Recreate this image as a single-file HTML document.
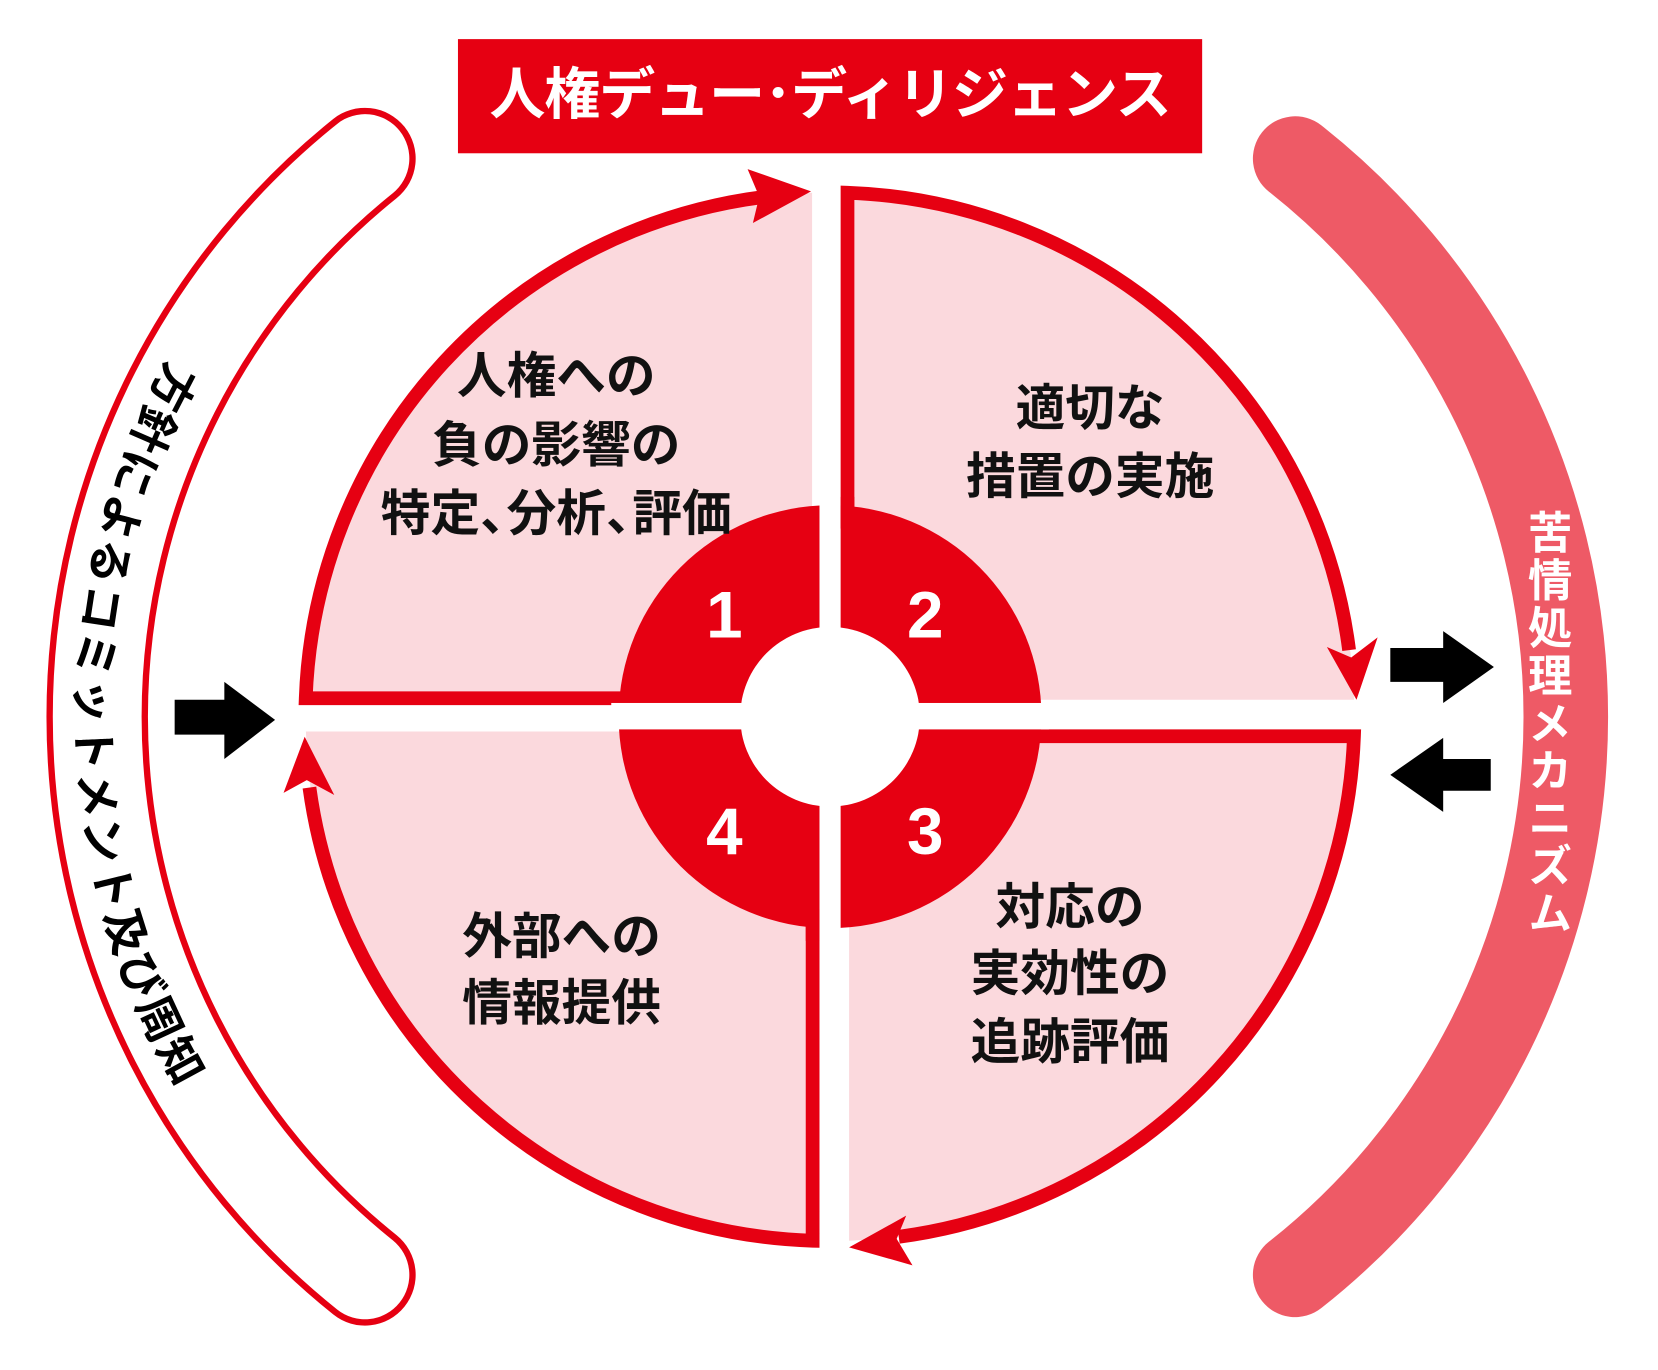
<!DOCTYPE html>
<html><head><meta charset="utf-8"><style>
html,body{margin:0;padding:0;background:#fff;}
svg{display:block;}
text{font-family:"Liberation Sans","Noto Sans CJK JP",sans-serif;}
</style></head><body>
<svg width="1658" height="1370" viewBox="0 0 1568 1296" xmlns="http://www.w3.org/2000/svg">
<rect width="1568" height="1296" fill="#fff"/>
<!-- left bracket -->
<path d="M345,150 A677,677 0 0 0 345,1206" fill="none" stroke="#e60012" stroke-width="96" stroke-linecap="round"/>
<path d="M345,150 A677,677 0 0 0 345,1206" fill="none" stroke="#fff" stroke-width="84" stroke-linecap="round"/>
<path id="lp" d="M173,348 A680,680 0 0 0 205,1060" fill="none"/>
<text font-size="43" font-weight="600" fill="#000" dominant-baseline="central"><textPath href="#lp" startOffset="0" textLength="705" lengthAdjust="spacing">方針によるコミットメント及び周知</textPath></text>
<!-- right band -->
<path d="M1225,150 A672.5,672.5 0 0 1 1225,1206" fill="none" stroke="#ee5a66" stroke-width="80" stroke-linecap="round"/>
<text x="1462" y="482" font-size="42" font-weight="bold" fill="#fff" style="writing-mode:tb;glyph-orientation-vertical:0" letter-spacing="3">苦情処理メカニズム</text>
<!-- title -->
<rect x="433" y="37" width="704" height="108" fill="#e60012"/>
<text x="785" y="108" font-size="53" font-weight="bold" fill="#fff" text-anchor="middle" letter-spacing="-1">人権デュー･ディリジェンス</text>
<!-- pink fills -->
<g fill="#fbd9dd">
<path d="M768,656 L289,656 A496,496 0 0 1 768,182.3 Z"/>
<path d="M802,662 L802,182 A496,496 0 0 1 1280.7,662 Z"/>
<path d="M803,703 L1280,703 A496,496 0 0 1 803,1173.7 Z"/>
<path d="M768,692 L768,1174 A496,496 0 0 1 289.2,692 Z"/>
</g>
<!-- borders -->
<g fill="none" stroke="#e60012" stroke-width="13">
<path d="M592,660.5 L289,660.5 A496,496 0 0 1 725,186"/>
<path d="M801.5,484 L801.5,182.3 A496,496 0 0 1 1276,615"/>
<path d="M870,696.5 L1280.6,696.5 A496,496 0 0 1 850,1170"/>
<path d="M768.5,876 L768.5,1173.7 A496,496 0 0 1 292.5,745"/>
</g>
<g fill="#e60012">
<polygon points="767,181 707,160 718,186 712,211"/>
<polygon points="1283,662 1255,612 1278,622 1303,603"/>
<polygon points="803,1180 857,1150 848,1172 863,1197"/>
<polygon points="288,697 268,750 290,738 316,752"/>
</g>
<!-- ring -->
<circle cx="785" cy="678" r="200" fill="#e60012"/>
<rect x="775" y="470" width="20" height="420" fill="#fff"/>
<rect x="578" y="665" width="414" height="25" fill="#fff"/>
<rect x="795" y="470" width="13" height="30" fill="#e60012"/>
<rect x="762" y="860" width="13" height="30" fill="#e60012"/>
<circle cx="785" cy="678" r="85" fill="#fff"/>
<g font-size="62" font-weight="bold" fill="#fff" text-anchor="middle">
<text x="685" y="603">1</text>
<text x="875" y="603">2</text>
<text x="875" y="808">3</text>
<text x="685" y="808">4</text>
</g>
<!-- labels -->
<g font-size="47" font-weight="bold" fill="#111" text-anchor="middle">
<text x="526" y="372">人権への</text>
<text x="526" y="437">負の影響の</text>
<text x="526" y="502"><tspan>特定</tspan><tspan letter-spacing="-22">、</tspan><tspan>分析</tspan><tspan letter-spacing="-22">、</tspan><tspan>評価</tspan></text>
<text x="1031" y="402">適切な</text>
<text x="1031" y="467">措置の実施</text>
<text x="1012" y="874">対応の</text>
<text x="1012" y="937">実効性の</text>
<text x="1012" y="1002">追跡評価</text>
<text x="531" y="902">外部への</text>
<text x="531" y="965">情報提供</text>
</g>
<!-- black arrows -->
<g fill="#000">
<polygon points="165,662 212,662 212,645 260,681 212,718 212,695 165,695"/>
<polygon points="1315,613 1365,613 1365,597 1413,631 1365,665 1365,645 1315,645"/>
<polygon points="1410,718 1365,718 1365,698 1315,733 1365,768 1365,748 1410,748"/>
</g>
</svg>
</body></html>
